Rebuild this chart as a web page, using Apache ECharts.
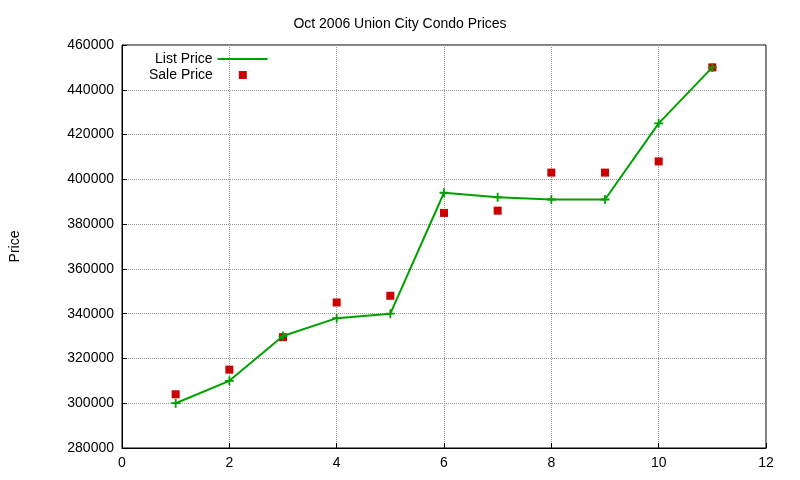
<!DOCTYPE html>
<html><head><meta charset="utf-8">
<script src="https://cdn.jsdelivr.net/npm/echarts@6/dist/echarts.min.js"></script>
<style>html,body{margin:0;padding:0;background:#fff}#c{width:800px;height:480px}</style>
</head><body><div id="c"></div>
<script>
const xs = [1,2,3,4,5,6,7,8,9,10,11];
const listPrice = [300000,310000,330000,338000,340000,394000,392000,391000,391000,425000,450000];
const salePrice = [304000,315000,329500,345000,348000,385000,386000,403000,403000,408000,450000];
const chart = echarts.init(document.getElementById('c'));
const font = 'Liberation Sans, Arial, sans-serif';
const lt = {fontSize:14,color:'#000',fontFamily:font};
chart.setOption({
  animation:false,
  title:{text:'Oct 2006 Union City Condo Prices',left:'center',top:12,textStyle:{fontSize:14,fontWeight:'normal',color:'#000',fontFamily:font}},
  grid:{left:120,right:34,top:45,bottom:32,show:true,borderColor:'#000',borderWidth:1},
  legend:[
    {orient:'vertical',left:150,top:47,align:'right',itemWidth:50,itemHeight:12,textStyle:lt,
     data:[{name:'List Price',icon:'path://M0,5L50,5L50,7L0,7Z'}]},
    {orient:'vertical',left:144,top:63,align:'right',itemWidth:50,itemHeight:8,textStyle:lt,
     data:[{name:'Sale Price',icon:'path://M21,0L29,0L29,8L21,8Z'}]}
  ],
  xAxis:{type:'value',min:0,max:12,interval:2,
    axisLine:{lineStyle:{color:'#000'}},axisTick:{inside:true,lineStyle:{color:'#000'}},
    axisLabel:{color:'#000',fontSize:14,fontFamily:font},
    splitLine:{show:true,lineStyle:{type:'dotted',color:'#999'}}},
  yAxis:{type:'value',min:280000,max:460000,interval:20000,name:'Price',nameLocation:'middle',nameGap:100,
    nameTextStyle:lt,
    axisLine:{show:true,lineStyle:{color:'#000'}},axisTick:{inside:true,lineStyle:{color:'#000'}},
    axisLabel:{color:'#000',fontSize:14,fontFamily:font,formatter:v=>String(v)},
    splitLine:{show:true,lineStyle:{type:'dotted',color:'#999'}}},
  series:[
    {name:'List Price',type:'line',data:xs.map((x,i)=>[x,listPrice[i]]),color:'#00a000',
     lineStyle:{width:2,color:'#00a000'},symbol:'path://M4,0L6,0L6,4L10,4L10,6L6,6L6,10L4,10L4,6L0,6L0,4L4,4Z',symbolSize:9,
     itemStyle:{color:'#00a000'}},
    {name:'Sale Price',type:'scatter',data:xs.map((x,i)=>[x,salePrice[i]]),symbol:'rect',symbolSize:8,
     itemStyle:{color:'#cc0000',opacity:1},color:'#cc0000'}
  ]
});
</script></body></html>
